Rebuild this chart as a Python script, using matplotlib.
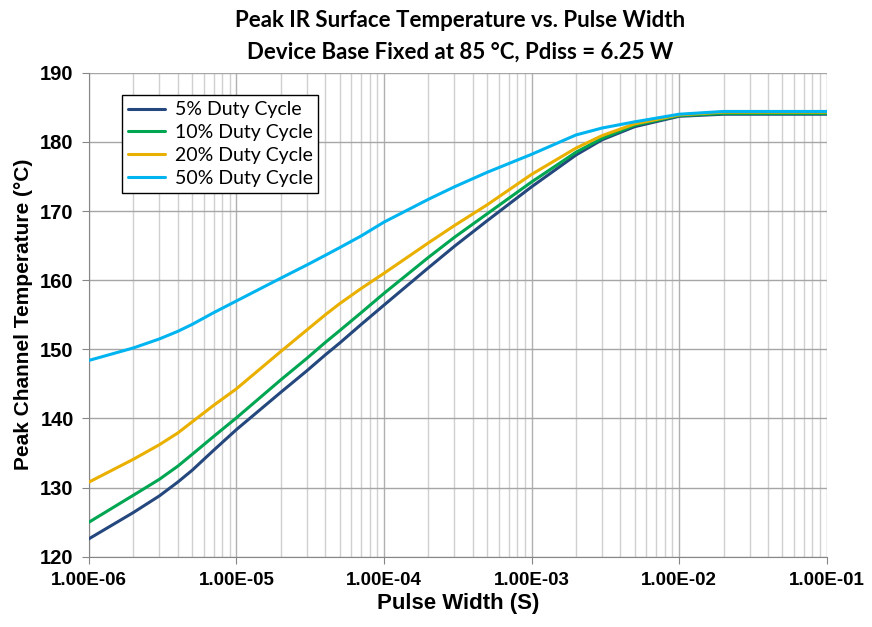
import matplotlib.pyplot as plt
from matplotlib.ticker import LogLocator, FixedLocator, FuncFormatter

# pulse width (s) and peak channel temperature (C) per duty cycle
pulse_width = [1e-6, 2e-6, 3e-6, 4e-6, 5e-6, 7e-6, 1e-5, 2e-5, 3e-5, 4e-5, 5e-5, 7e-5,
               1e-4, 2e-4, 3e-4, 5e-4, 1e-3, 2e-3, 3e-3, 5e-3, 1e-2, 2e-2, 5e-2, 1e-1]
duty_5 = [122.6, 126.4, 128.8, 130.8, 132.5, 135.4, 138.4, 143.8, 146.9, 149.2, 150.9, 153.6,
          156.4, 161.8, 164.9, 168.6, 173.5, 178.1, 180.3, 182.2, 183.7, 184.0, 184.0, 184.0]
duty_10 = [125.0, 128.9, 131.2, 133.1, 134.8, 137.4, 140.1, 145.6, 148.7, 151.0, 152.7, 155.3,
           158.1, 163.3, 166.2, 169.6, 174.2, 178.5, 180.5, 182.4, 183.8, 184.1, 184.1, 184.1]
duty_20 = [130.8, 134.1, 136.2, 137.9, 139.5, 141.9, 144.3, 149.7, 152.8, 155.0, 156.6, 158.8,
           161.0, 165.4, 167.9, 170.9, 175.3, 179.1, 180.9, 182.6, 183.9, 184.3, 184.3, 184.3]
duty_50 = [148.4, 150.2, 151.5, 152.6, 153.6, 155.3, 157.0, 160.3, 162.2, 163.6, 164.7, 166.4,
           168.4, 171.7, 173.5, 175.6, 178.2, 181.0, 182.0, 182.9, 184.0, 184.4, 184.4, 184.4]

labels = ["5% Duty Cycle", "10% Duty Cycle", "20% Duty Cycle", "50% Duty Cycle"]
colors = ["#24477D", "#00A651", "#EAB000", "#00B4F0"]
y_ticks = [120, 130, 140, 150, 160, 170, 180, 190]

fig = plt.figure(figsize=(8.72, 6.27), dpi=100)
ax = fig.add_axes([0.102, 0.112, 0.846, 0.772])

for series, lab, col in zip([duty_5, duty_10, duty_20, duty_50], labels, colors):
    ax.plot(pulse_width, series, color=col, linewidth=2.2, label=lab, zorder=3,
            solid_joinstyle="round", solid_capstyle="round")

ax.set_xscale("log")
ax.set_xlim(1e-6, 1e-1)
ax.set_ylim(120, 190)

ax.xaxis.set_major_locator(LogLocator(base=10, numticks=10))
ax.xaxis.set_minor_locator(LogLocator(base=10, subs=range(2, 10), numticks=20))
ax.xaxis.set_major_formatter(FuncFormatter(lambda v, p: "%.2E" % v))
ax.yaxis.set_major_locator(FixedLocator(y_ticks))

ax.grid(True, which="major", axis="x", color="#B0B0B0", linewidth=1.0)
ax.grid(True, which="minor", axis="x", color="#D0D0D0", linewidth=1.0)
ax.grid(True, which="major", axis="y", color="#A6A6A6", linewidth=1.0)
ax.set_axisbelow(True)

for side in ["top", "right"]:
    ax.spines[side].set_visible(False)
for side in ["left", "bottom"]:
    ax.spines[side].set_color("#868686")

ax.tick_params(axis="both", which="major", direction="out", length=5,
               color="#868686", pad=6)
ax.tick_params(axis="x", which="major", labelsize=13.5)
ax.tick_params(axis="y", which="major", labelsize=14.5)
ax.tick_params(axis="x", which="minor", length=0)
for t in ax.get_xticklabels() + ax.get_yticklabels():
    t.set_fontfamily("Liberation Sans")
    t.set_fontweight("bold")

ax.set_xlabel("Pulse Width (S)", fontsize=16, fontweight="bold",
              fontfamily="Liberation Sans", labelpad=3)
ax.set_ylabel("Peak Channel Temperature (\u00b0C)", fontsize=15, fontweight="bold",
              fontfamily="Liberation Sans", labelpad=5)

fig.text(0.528, 0.967, "Peak IR Surface Temperature vs. Pulse Width",
         ha="center", va="center", fontsize=16, fontweight="bold", fontfamily="Lato")
fig.text(0.528, 0.916, "Device Base Fixed at 85 \u00b0C, Pdiss = 6.25 W",
         ha="center", va="center", fontsize=16, fontweight="bold", fontfamily="Lato")

leg = ax.legend(loc="upper left", bbox_to_anchor=(0.045, 0.953), fancybox=False,
                framealpha=1, edgecolor="black", borderpad=0.3, labelspacing=0.3,
                handlelength=1.9, handletextpad=0.5, borderaxespad=0,
                prop={"family": "Lato", "size": 14})
leg.get_frame().set_linewidth(1.0)

fig.savefig("out.png", dpi=100)
